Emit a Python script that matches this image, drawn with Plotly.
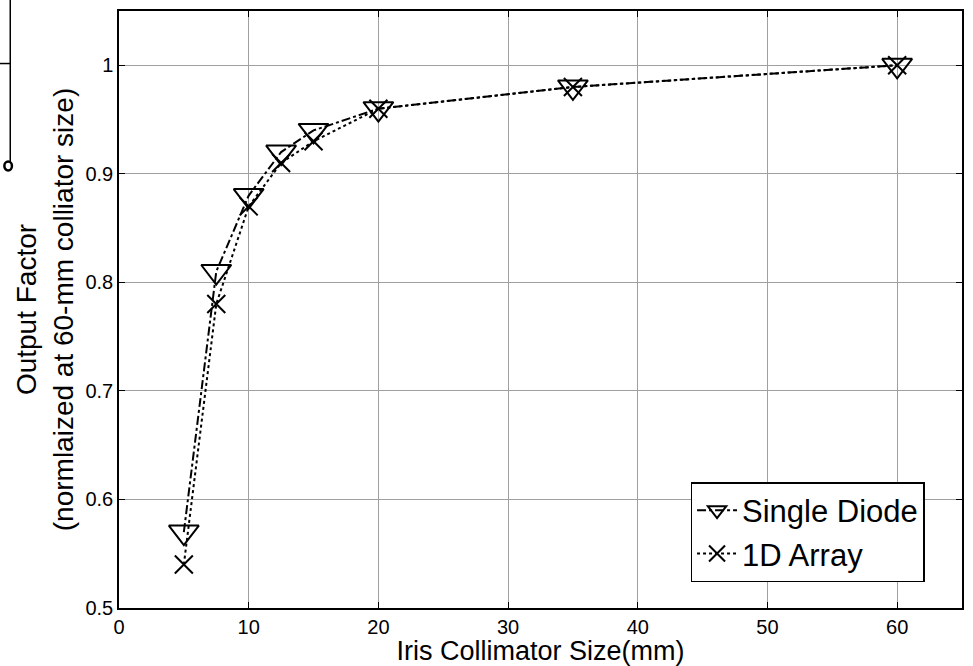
import plotly.graph_objects as go

# Iris collimator sizes (mm) and measured output factors
collimator_mm = [5, 7.5, 10, 12.5, 15, 20, 35, 60]
single_diode = [0.57, 0.81, 0.88, 0.92, 0.94, 0.96, 0.98, 1.00]
array_1d = [0.54, 0.78, 0.87, 0.91, 0.93, 0.96, 0.98, 1.00]

x_ticks = [0, 10, 20, 30, 40, 50, 60]
y_ticks = [0.5, 0.6, 0.7, 0.8, 0.9, 1.0]
y_tick_text = ["0.5", "0.6", "0.7", "0.8", "0.9", "1"]

FONT = "Arial, Liberation Sans, sans-serif"

fig = go.Figure()

fig.add_trace(go.Scatter(
    x=collimator_mm, y=single_diode, name="Single Diode",
    mode="lines+markers",
    line=dict(color="black", width=2, dash="dashdot"),
    marker=dict(symbol="triangle-down-open", size=26, color="black",
                line=dict(width=2, color="black")),
))
fig.add_trace(go.Scatter(
    x=collimator_mm, y=array_1d, name="1D Array",
    mode="lines+markers",
    line=dict(color="black", width=2, dash="dot"),
    marker=dict(symbol="x-thin-open", size=18, color="black",
                line=dict(width=2, color="black")),
))

axis_common = dict(
    showline=True, linecolor="black", linewidth=1.5, mirror="ticks",
    ticks="inside", ticklen=6, tickcolor="black",
    showgrid=True, gridcolor="#a0a0a0", gridwidth=1,
    zeroline=False,
    tickfont=dict(family=FONT, size=20, color="black"),
)

fig.update_xaxes(
    range=[0, 65], tickvals=x_ticks,
    title=dict(text="Iris Collimator Size(mm)", standoff=0,
               font=dict(family=FONT, size=27, color="black")),
    **axis_common,
)
fig.update_yaxes(
    range=[0.5, 1.05], tickvals=y_ticks, ticktext=y_tick_text,
    title=dict(text="Output Factor<br>(normlaized at 60-mm colliator size)", standoff=4,
               font=dict(family=FONT, size=28, color="black")),
    **axis_common,
)

# Fragment of a neighbouring axis at the left edge
fig.add_shape(type="line", xref="paper", yref="paper",
              x0=-0.129, x1=-0.129, y0=1.02, y1=0.74,
              line=dict(color="black", width=1.5))
fig.add_shape(type="line", xref="paper", yref="paper",
              x0=-0.145, x1=-0.129, y0=0.912, y1=0.912,
              line=dict(color="black", width=1.5))
fig.add_shape(type="circle", xref="paper", yref="paper",
              x0=-0.136, x1=-0.127, y0=0.733, y1=0.748,
              line=dict(color="black", width=2.5), fillcolor="white")

fig.update_layout(
    width=973, height=666,
    margin=dict(l=119, r=9, t=10, b=58),
    paper_bgcolor="white", plot_bgcolor="white",
    font=dict(family=FONT, color="black"),
    showlegend=True,
    legend=dict(
        x=0.678, y=0.211, xanchor="left", yanchor="top",
        bgcolor="white", bordercolor="black", borderwidth=1.5,
        font=dict(family=FONT, size=31, color="black"),
        itemwidth=40, tracegroupgap=0,
    ),
)

fig.write_html("out.html")
